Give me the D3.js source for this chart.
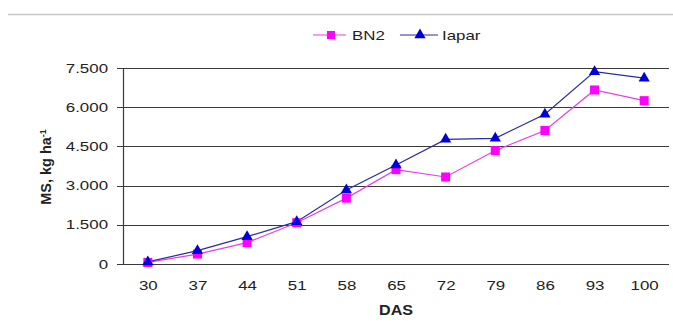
<!DOCTYPE html>
<html>
<head>
<meta charset="utf-8">
<script src="https://cdn.jsdelivr.net/npm/d3@7"></script>
<style>
  body { margin: 0; background: #fff; }
  #chart { width: 673px; height: 329px; }
  text { font-family: "Liberation Sans", Arial, sans-serif; fill: #222; }
</style>
</head>
<body>
<div id="chart"></div>
<script>
var days = ["30", "37", "44", "51", "58", "65", "72", "79", "86", "93", "100"];
var bn2 = [60, 380, 820, 1580, 2520, 3610, 3330, 4340, 5110, 6660, 6250];
var iapar = [80, 510, 1045, 1620, 2830, 3790, 4770, 4810, 5730, 7360, 7110];
var yTicks = [0, 1500, 3000, 4500, 6000, 7500];

var width = 673, height = 329;
var margin = {top: 68, left: 123, right: 4, bottom: 65};

var svg = d3.select("#chart").append("svg")
    .attr("width", width)
    .attr("height", height);

// the source text looks horizontally stretched, widen glyphs a bit
function widen(sel, k) {
    sel.each(function() {
        var w = this.getComputedTextLength();
        d3.select(this).attr("textLength", w * k).attr("lengthAdjust", "spacingAndGlyphs");
    });
}

// thin gray rule across the top
svg.append("line")
    .attr("x1", 8).attr("x2", width)
    .attr("y1", 14.5).attr("y2", 14.5)
    .attr("stroke", "#c8c8c8").attr("stroke-width", 1.5);

var xScale = d3.scalePoint()
    .domain(days)
    .range([margin.left, width - margin.right])
    .padding(0.5);

var yScale = d3.scaleLinear()
    .domain([0, 7500])
    .range([height - margin.bottom, margin.top]);

// gridlines
svg.append("g")
    .selectAll("line")
    .data(yTicks)
    .enter()
    .append("line")
        .attr("x1", margin.left - 6)
        .attr("x2", width - margin.right)
        .attr("y1", function(d) { return Math.round(yScale(d)) + 0.5; })
        .attr("y2", function(d) { return Math.round(yScale(d)) + 0.5; })
        .attr("stroke", "#3a3a3a")
        .attr("stroke-width", 1.2);

// y axis line
svg.append("line")
    .attr("x1", margin.left + 0.5).attr("x2", margin.left + 0.5)
    .attr("y1", yScale(7500)).attr("y2", yScale(0))
    .attr("stroke", "#3a3a3a").attr("stroke-width", 1.2);

var yAxis = svg.append("g")
    .attr("transform", `translate(${margin.left - 6}, 0)`)
    .call(d3.axisLeft(yScale).tickValues(yTicks).tickSize(0).tickPadding(9)
        .tickFormat(function(d) { return d === 0 ? "0" : d3.format(",")(d).replace(",", "."); }));
yAxis.select(".domain").remove();
yAxis.selectAll("text").style("font-size", "12.5px").style("font-family", "Liberation Sans, Arial, sans-serif").attr("fill", "#222");
widen(yAxis.selectAll("text"), 1.35);

var xAxis = svg.append("g")
    .attr("transform", `translate(0, ${yScale(0)})`)
    .call(d3.axisBottom(xScale).tickSize(0).tickPadding(17));
xAxis.select(".domain").remove();
xAxis.selectAll("text").style("font-size", "12.5px").style("font-family", "Liberation Sans, Arial, sans-serif").attr("fill", "#222");
widen(xAxis.selectAll("text"), 1.35);

// lines
var line = d3.line()
    .x(function(d, i) { return xScale(days[i]); })
    .y(function(d) { return yScale(d); });

svg.append("path").datum(bn2)
    .attr("d", line).attr("fill", "none")
    .attr("stroke", "#e83ee8").attr("stroke-width", 1.2);

svg.append("path").datum(iapar)
    .attr("d", line).attr("fill", "none")
    .attr("stroke", "#2a2aa0").attr("stroke-width", 1.2);

// markers
svg.append("g").selectAll("rect")
    .data(bn2)
    .enter()
    .append("rect")
        .attr("x", function(d, i) { return xScale(days[i]) - 4.5; })
        .attr("y", function(d) { return yScale(d) - 4.5; })
        .attr("width", 9).attr("height", 9)
        .attr("fill", "#ff00ff");

var tri = d3.symbol().type(d3.symbolTriangle).size(55);
svg.append("g").selectAll("path")
    .data(iapar)
    .enter()
    .append("path")
        .attr("d", tri)
        .attr("transform", function(d, i) { return `translate(${xScale(days[i])}, ${yScale(d)})`; })
        .attr("fill", "#0000dd");

// axis titles
var xTitle = svg.append("text")
    .attr("x", (margin.left + width - margin.right) / 2).attr("y", 315)
    .attr("text-anchor", "middle")
    .style("font-size", "14px").style("font-weight", "bold")
    .text("DAS");
widen(xTitle, 1.15);

var yLabel = svg.append("text")
    .attr("transform", "translate(51, 167) rotate(-90)")
    .attr("text-anchor", "middle")
    .style("font-size", "14.5px").style("font-weight", "bold");
yLabel.append("tspan").text("MS, kg ha");
yLabel.append("tspan").attr("dy", -5).style("font-size", "9px").text("-1");

// legend
var legend = svg.append("g");
legend.append("line").attr("x1", 313).attr("x2", 346).attr("y1", 35).attr("y2", 35)
    .attr("stroke", "#e83ee8").attr("stroke-width", 1.2);
legend.append("rect").attr("x", 327).attr("y", 31).attr("width", 8).attr("height", 8)
    .attr("fill", "#ff00ff");
var t1 = legend.append("text").attr("x", 352).attr("y", 40).style("font-size", "13.5px").text("BN2");
widen(t1, 1.25);

legend.append("line").attr("x1", 400).attr("x2", 438).attr("y1", 35).attr("y2", 35)
    .attr("stroke", "#2a2aa0").attr("stroke-width", 1.2);
legend.append("path").attr("d", tri).attr("transform", "translate(420, 35)")
    .attr("fill", "#0000dd");
var t2 = legend.append("text").attr("x", 442).attr("y", 40).style("font-size", "13.5px").text("Iapar");
widen(t2, 1.25);
</script>
</body>
</html>
